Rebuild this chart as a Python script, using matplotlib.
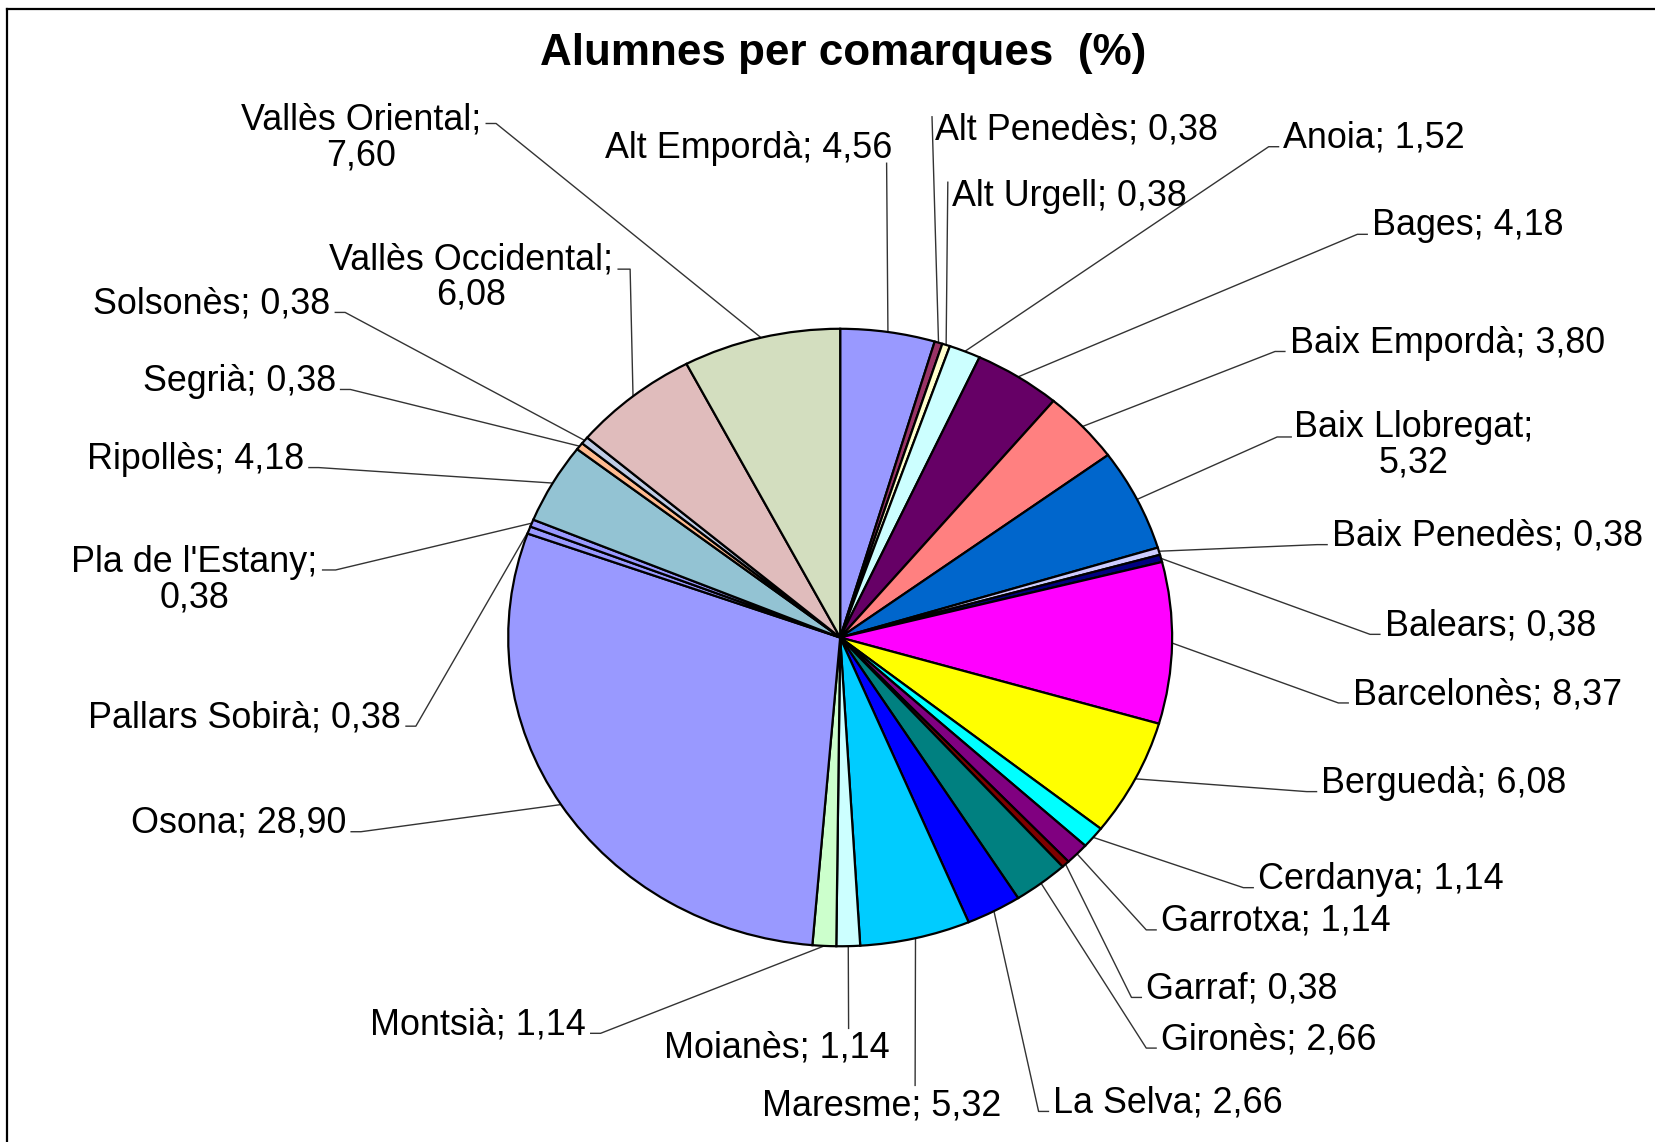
import matplotlib
matplotlib.use("Agg")
import matplotlib.pyplot as plt
from matplotlib.lines import Line2D
import numpy as np

plt.rcParams['font.family'] = ['Liberation Sans', 'DejaVu Sans']

# ---- data ----
comarques = ["Alt Empordà", "Alt Penedès", "Alt Urgell", "Anoia", "Bages",
             "Baix Empordà", "Baix Llobregat", "Baix Penedès", "Balears",
             "Barcelonès", "Berguedà", "Cerdanya", "Garrotxa", "Garraf",
             "Gironès", "La Selva", "Maresme", "Moianès", "Montsià", "Osona",
             "Pallars Sobirà", "Pla de l'Estany", "Ripollès", "Segrià",
             "Solsonès", "Vallès Occidental", "Vallès Oriental"]
valors = [4.56, 0.38, 0.38, 1.52, 4.18, 3.80, 5.32, 0.38, 0.38, 8.37, 6.08,
          1.14, 1.14, 0.38, 2.66, 2.66, 5.32, 1.14, 1.14, 28.90, 0.38, 0.38,
          4.18, 0.38, 0.38, 6.08, 7.60]
colors = ["#9999FF", "#993366", "#FFFFCC", "#CCFFFF", "#660066", "#FF8080",
          "#0066CC", "#CCCCFF", "#000080", "#FF00FF", "#FFFF00", "#00FFFF",
          "#800080", "#800000", "#008080", "#0000FF", "#00CCFF", "#CCFFFF",
          "#CCFFCC", "#9999FF", "#9999FF", "#9999FF", "#93C3D3", "#FFBB90",
          "#BFCCE6", "#E0BCBC", "#D3DEBF"]
titol = "Alumnes per comarques  (%)"

def fmt(v):
    return f"{v:.2f}".replace(".", ",")

# ---- layout (reference pixels, shrunk scale) ----
W, H = 1655, 1142
S = W / 1568
cx, cy = 796 * S, 604 * S
rx, ry = 314.5 * S, 292.5 * S

def P(xs, ys):
    X, Y = xs * S, ys * S
    return (X - cx) / rx, (cy - Y) / ry

# label layout: (text x, text y, side, custom line end)
# side: 'R' text left-aligned at x, 'L' text right-aligned at x, 'C' centered
layout = {
    "Alt Empordà":      (845, 138, 'L', [(840, 154)]),
    "Alt Penedès":      (886, 120, 'R', [(883, 110)]),
    "Alt Urgell":       (902, 183, 'R', [(898, 172)]),
    "Anoia":            (1216, 128, 'R', None),
    "Bages":            (1300, 211, 'R', None),
    "Baix Empordà":     (1222, 322, 'R', None),
    "Baix Llobregat":   (1339, 419, 'C', [(1210, 414), (1224, 414)]),
    "Baix Penedès":     (1262, 505, 'R', None),
    "Balears":          (1312, 590, 'R', None),
    "Barcelonès":       (1282, 655, 'R', None),
    "Berguedà":         (1252, 739, 'R', None),
    "Cerdanya":         (1192, 830, 'R', None),
    "Garrotxa":         (1100, 870, 'R', None),
    "Garraf":           (1086, 934, 'R', None),
    "Gironès":          (1100, 982, 'R', None),
    "La Selva":         (998, 1042, 'R', None),
    "Maresme":          (835, 1045, 'C', [(867, 1029)]),
    "Moianès":          (736, 990, 'C', [(804, 975)]),
    "Montsià":          (555, 968, 'L', None),
    "Osona":            (328, 777, 'L', None),
    "Pallars Sobirà":   (380, 677, 'L', None),
    "Pla de l'Estany":  (184, 547, 'C', [(318, 540), (305, 540)]),
    "Ripollès":         (288, 432, 'L', None),
    "Segrià":           (318, 358, 'L', None),
    "Solsonès":         (313, 285, 'L', None),
    "Vallès Occidental": (446, 260, 'C', [(597, 255), (585, 255)]),
    "Vallès Oriental":  (342, 128, 'C', [(470, 117), (460, 117)]),
}
multiline = {"Baix Llobregat", "Pla de l'Estany", "Vallès Occidental", "Vallès Oriental"}

fig = plt.figure(figsize=(W / 100, H / 100), dpi=100)
ax = fig.add_axes([0, 0, 1, 1])
ax.pie(valors, colors=colors, startangle=90, counterclock=False,
       radius=1, center=(0, 0),
       wedgeprops=dict(edgecolor="black", linewidth=1.6))
ax.set_xlim((0 - cx) / rx, (W - cx) / rx)
ax.set_ylim((cy - H) / ry, cy / ry)
ax.set_aspect('auto')
ax.axis('off')

total = sum(valors)
cum = np.concatenate([[0], np.cumsum(valors)[:-1]])
fs = 25.8
for name, v, c0 in zip(comarques, valors, cum):
    theta = np.deg2rad(360 * (c0 + v / 2) / total)
    ex, ey = np.sin(theta), np.cos(theta)
    tx, ty, side, custom = layout[name]
    if name in multiline:
        txt = f"{name};\n{fmt(v)}"
    else:
        txt = f"{name}; {fmt(v)}"
    ha = {'R': 'left', 'L': 'right', 'C': 'center'}[side]
    px, py = P(tx, ty + 3)
    ax.text(px, py, txt, ha=ha, va='center', fontsize=fs, multialignment='center',
            linespacing=1.03, color='black')
    if custom is None:
        if side == 'R':
            pts = [(tx - 14, ty + 11), (tx - 4, ty + 11)]
        else:
            pts = [(tx + 14, ty + 11), (tx + 4, ty + 11)]
    else:
        pts = custom
    xs = [ex] + [P(a, b)[0] for a, b in pts]
    ys = [ey] + [P(a, b)[1] for a, b in pts]
    ax.plot(xs, ys, color='#333333', lw=1.0, zorder=0.5, solid_capstyle='butt')

fig.text(843 / W, 1 - 54 / H, titol, ha='center', va='center',
         fontsize=31.7, fontweight='bold')

# frame (top and left edges)
fig.add_artist(Line2D([7 / W, 1], [1 - 9 / H, 1 - 9 / H], color='black', lw=1.6,
                      transform=fig.transFigure))
fig.add_artist(Line2D([7 / W, 7 / W], [0, 1 - 9 / H], color='black', lw=1.6,
                      transform=fig.transFigure))

fig.savefig("out.png", dpi=100)
